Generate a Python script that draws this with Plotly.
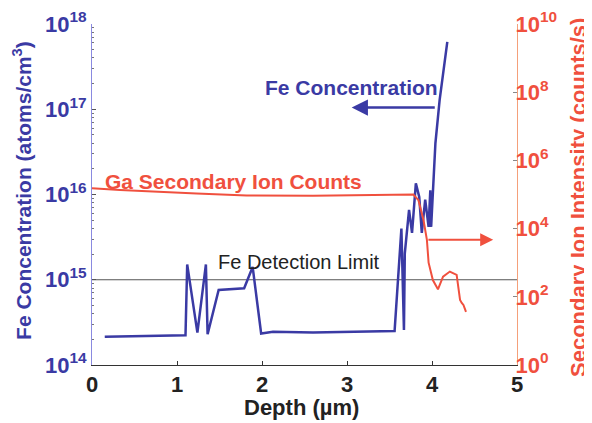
import plotly.graph_objects as go

# Fe concentration (atoms/cm^3), left axis
fe_depth = [0.15, 1.10, 1.12, 1.24, 1.34, 1.36, 1.49, 1.79, 1.89, 1.99, 2.13, 2.60, 3.56,
            3.64, 3.67, 3.68, 3.73, 3.765, 3.78, 3.81, 3.85, 3.88, 3.92, 3.96, 3.98, 3.99,
            4.02, 4.04, 4.09, 4.14, 4.18]
fe_log = [14.33, 14.35, 15.18, 14.38, 15.18, 14.36, 14.88, 14.90, 15.15, 14.37, 14.39, 14.38, 14.40,
          15.60, 14.41, 15.31, 15.82, 15.55, 15.74, 16.13, 15.97, 15.55, 15.94, 15.62, 16.05, 15.62,
          16.21, 16.60, 17.11, 17.50, 17.79]
fe_conc = [10 ** v for v in fe_log]

# Ga secondary ion intensity (counts/s), right axis
ga_depth = [0.0, 0.33, 1.23, 1.82, 2.60, 3.78, 3.84, 3.90, 3.94, 3.96, 4.01, 4.07, 4.13,
            4.21, 4.29, 4.33, 4.35, 4.37, 4.40]
ga_log = [5.18, 5.13, 5.03, 4.97, 4.96, 5.00, 4.84, 4.25, 3.67, 3.00, 2.49, 2.22, 2.59,
          2.74, 2.64, 1.91, 1.82, 1.76, 1.56]
ga_counts = [10 ** v for v in ga_log]

detection_limit = 1e15
x_ticks = [0, 1, 2, 3, 4, 5]
left_exp = [14, 15, 16, 17, 18]
right_exp = [0, 2, 4, 6, 8, 10]

BLUE = "#3a3aa4"
RED = "#f0503e"
FONT = "Liberation Sans"

fig = go.Figure()
fig.add_trace(go.Scatter(x=[0, 5], y=[detection_limit, detection_limit], mode="lines",
                         line=dict(color="#555555", width=1), yaxis="y", showlegend=False))
fig.add_trace(go.Scatter(x=ga_depth, y=ga_counts, mode="lines",
                         line=dict(color=RED, width=2), yaxis="y2", showlegend=False))
fig.add_trace(go.Scatter(x=fe_depth, y=fe_conc, mode="lines",
                         line=dict(color=BLUE, width=2.5), yaxis="y", showlegend=False))

# the page body adds an 8px offset; margins compensate so the plot area sits at 92..517 x 24..365
fig.update_layout(
    width=592, height=423,
    margin=dict(l=84, r=83, t=16, b=66),
    paper_bgcolor="white", plot_bgcolor="white",
    font=dict(family=FONT),
    xaxis=dict(range=[0, 5], tickvals=x_ticks, ticktext=[f"<b>{v}</b>" for v in x_ticks],
               tickfont=dict(size=22, color="#222222"), ticks="inside", ticklen=4,
               tickcolor="#333333", showline=True, linecolor="#333333", linewidth=1,
               showgrid=False, zeroline=False, automargin=False),
    yaxis=dict(type="log", range=[14, 18], tickvals=[10 ** e for e in left_exp],
               ticktext=[f"<b>10<sup>{e}</sup></b>" for e in left_exp],
               tickfont=dict(size=22, color=BLUE), ticks="inside", ticklen=4,
               tickcolor="#555555", showline=True, linecolor="#8a8ae0", linewidth=1,
               showgrid=False, zeroline=False, automargin=False,
               minor=dict(ticks="inside", ticklen=2, tickcolor="#777777", dtick="D1")),
    yaxis2=dict(type="log", range=[0, 10], overlaying="y", side="right",
                tickvals=[10 ** e for e in right_exp],
                ticktext=[f"<b>10<sup>{e}</sup></b>" for e in right_exp],
                tickfont=dict(size=22, color=RED), ticks="inside", ticklen=4,
                tickcolor="#888888", showline=True, linecolor="#f5a07a", linewidth=1,
                showgrid=False, zeroline=False, automargin=False, ticklabelstandoff=-7),
)

# axis titles
fig.add_annotation(x=0.494, y=-0.126, xref="paper", yref="paper", xanchor="center",
                   yanchor="middle", text="<b>Depth (\u00b5m)</b>", showarrow=False,
                   font=dict(size=22, color="#222222"))
fig.add_annotation(x=-0.165, y=0.513, xref="paper", yref="paper", textangle=-90,
                   xanchor="center", yanchor="middle",
                   text="<b>Fe Concentration (atoms/cm<sup>3</sup>)</b>", showarrow=False,
                   font=dict(size=21, color=BLUE))
fig.add_annotation(x=1.146, y=0.49, xref="paper", yref="paper", textangle=-90,
                   xanchor="center", yanchor="middle",
                   text="<b>Secondary Ion Intensity (counts/s)</b>", showarrow=False,
                   font=dict(size=22, color=RED))

# in-plot labels and arrows
fig.add_annotation(x=3.05, y=17.25, xref="x", yref="y", text="<b>Fe Concentration</b>",
                   showarrow=False, font=dict(size=21, color=BLUE))
fig.add_annotation(x=3.055, y=17.02, ax=4.05, ay=17.02, xref="x", yref="y",
                   axref="x", ayref="y", text="", showarrow=True, arrowhead=2,
                   arrowsize=1.3, arrowwidth=2.5, arrowcolor=BLUE)
fig.add_annotation(x=1.66, y=5.38, xref="x", yref="y2", text="<b>Ga Secondary Ion Counts</b>",
                   showarrow=False, font=dict(size=21, color=RED))
fig.add_annotation(x=4.72, y=3.67, ax=3.94, ay=3.67, xref="x", yref="y2",
                   axref="x", ayref="y2", text="", showarrow=True, arrowhead=2,
                   arrowsize=1.3, arrowwidth=2, arrowcolor=RED)
fig.add_annotation(x=2.43, y=15.21, xref="x", yref="y", text="Fe Detection Limit",
                   showarrow=False, font=dict(size=20, color="#222222"))

fig.write_html("out.html")
